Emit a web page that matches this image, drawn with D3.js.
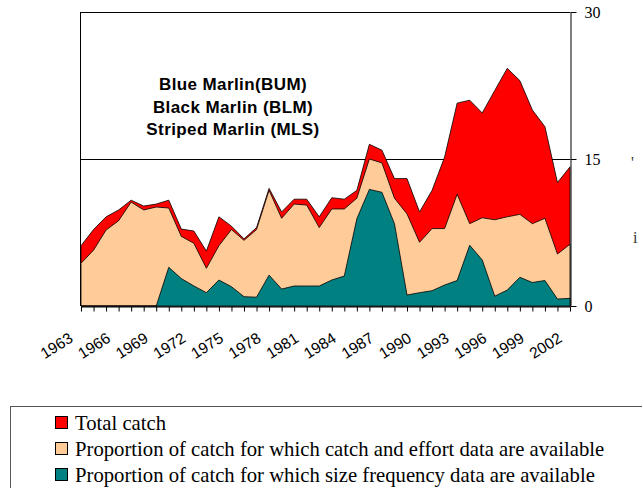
<!DOCTYPE html>
<html>
<head>
<meta charset="utf-8">
<script src="https://cdn.jsdelivr.net/npm/d3@7"></script>
<style>
  body { margin: 0; background: #fff; }
  svg { display: block; }
</style>
</head>
<body>
<div id="chart"></div>
<script>
// ======= DATA =======

const years = [
  1963, 1964, 1965, 1966, 1967, 1968, 1969, 1970, 1971, 1972,
  1973, 1974, 1975, 1976, 1977, 1978, 1979, 1980, 1981, 1982,
  1983, 1984, 1985, 1986, 1987, 1988, 1989, 1990, 1991, 1992,
  1993, 1994, 1995, 1996, 1997, 1998, 1999, 2000, 2001, 2002
];

// total catch ('000 t)
const totalCatch = [
  6.15, 7.8, 9.1, 9.8, 10.8, 10.2, 10.4, 10.8, 7.85, 7.65,
  5.6, 9.1, 8.15, 6.85, 8.0, 12.0, 9.6, 10.9, 10.9, 9.1,
  11.05, 10.9, 11.8, 16.5, 15.9, 13.0, 13.0, 9.6, 11.8, 15.2,
  20.7, 21.0, 19.7, 22.0, 24.25, 23.0, 20.0, 18.3, 12.6, 14.2
];

// part of catch with catch & effort data
const catchEffort = [
  4.35, 5.7, 7.75, 8.7, 10.6, 9.8, 10.1, 10.0, 7.1, 6.4,
  3.85, 6.15, 7.8, 6.7, 7.8, 11.8, 8.95, 10.4, 10.3, 8.0,
  9.9, 9.9, 11.0, 15.0, 14.6, 11.0, 9.4, 6.5, 7.9, 7.9,
  11.4, 8.4, 9.0, 8.8, 9.1, 9.35, 8.4, 8.95, 5.3, 6.3
];

// part of catch with size frequency data
const sizeFreq = [
  0, 0, 0, 0, 0, 0, 0, 3.95, 2.8, 2.05,
  1.36, 2.65, 1.97, 0.95, 0.9, 3.15, 1.73, 2.04, 2.04, 2.04,
  2.65, 3.06, 8.9, 11.9, 11.6, 8.4, 1.12, 1.36, 1.56, 2.14,
  2.6, 6.2, 4.7, 1.0, 1.63, 2.93, 2.4, 2.6, 0.71, 0.78
];

const yTicks = [0, 15, 30];
const labelYears = [1963, 1966, 1969, 1972, 1975, 1978, 1981, 1984, 1987, 1990, 1993, 1996, 1999, 2002];

const speciesLines = ["Blue Marlin(BUM)", "Black Marlin (BLM)", "Striped Marlin (MLS)"];

const series = [
  { name: "Total catch", values: totalCatch, color: "#ff0000" },
  { name: "Proportion of catch for which catch and effort data are available", values: catchEffort, color: "#ffcc99" },
  { name: "Proportion of catch for which size frequency data are available", values: sizeFreq, color: "#008080" }
];

// ======= SVG SETUP =======

const width = 642;
const height = 488;
const plotLeft = 81, plotRight = 570, plotTop = 12, plotBottom = 306;

const svg = d3.select("#chart")
  .append("svg")
  .attr("width", width)
  .attr("height", height);

const x = d3.scalePoint()
  .domain(years)
  .range([plotLeft, plotRight]);

const y = d3.scaleLinear()
  .domain([0, 30])
  .range([plotBottom, plotTop]);

// gridline at 15 (behind the areas)
svg.append("line")
  .attr("x1", plotLeft).attr("x2", plotRight)
  .attr("y1", y(15) + 0.5).attr("y2", y(15) + 0.5)
  .attr("stroke", "#000")
  .attr("stroke-width", 1);

// ------- AREAS (overlapping, not stacked) -------
const area = d3.area()
  .x((d, i) => x(years[i]))
  .y0(y(0))
  .y1(d => y(d));

svg.selectAll(".series")
  .data(series)
  .enter()
  .append("path")
  .attr("class", "series")
  .attr("d", d => area(d.values))
  .attr("fill", d => d.color)
  .attr("stroke", "#000")
  .attr("stroke-width", 0.8)
  .attr("stroke-linejoin", "round");

// plot border: top and left
svg.append("line")
  .attr("x1", plotLeft).attr("x2", plotRight)
  .attr("y1", plotTop + 0.5).attr("y2", plotTop + 0.5)
  .attr("stroke", "#000");
svg.append("line")
  .attr("x1", plotLeft - 0.5).attr("x2", plotLeft - 0.5)
  .attr("y1", plotTop).attr("y2", plotBottom)
  .attr("stroke", "#000");

// ------- AXES -------
const yAxis = svg.append("g")
  .attr("transform", `translate(${plotRight + 0.5},0)`)
  .call(d3.axisRight(y).tickValues(yTicks).tickSize(6).tickSizeOuter(0).tickPadding(8));

yAxis.selectAll("text")
  .attr("font-family", "'Liberation Serif', 'Times New Roman', serif")
  .attr("font-size", 16)
  .attr("fill", "#000");
yAxis.selectAll("line, path").attr("stroke", "#000");

const xAxis = svg.append("g")
  .attr("transform", `translate(0,${plotBottom + 0.5})`)
  .call(d3.axisBottom(x).tickSize(5).tickSizeOuter(0).tickFormat(""));
xAxis.selectAll("line, path").attr("stroke", "#000");

// rotated year labels
svg.selectAll(".year-label")
  .data(labelYears)
  .enter()
  .append("text")
  .attr("class", "year-label")
  .attr("transform", d => `translate(${x(d) - 7},${plotBottom + 35}) rotate(-32)`)
  .attr("text-anchor", "end")
  .attr("font-family", "'Liberation Sans', Arial, sans-serif")
  .attr("font-size", 15.5)
  .attr("fill", "#000")
  .text(d => d);

// species title inside the plot
svg.selectAll(".species")
  .data(speciesLines)
  .enter()
  .append("text")
  .attr("class", "species")
  .attr("x", 233)
  .attr("y", (d, i) => 90 + i * 22.5)
  .attr("text-anchor", "middle")
  .attr("font-family", "'Liberation Sans', Arial, sans-serif")
  .attr("font-weight", "bold")
  .attr("font-size", 17)
  .attr("letter-spacing", 0.4)
  .attr("fill", "#000")
  .text(d => d);

// clipped fragments at right edge
svg.append("text")
  .attr("x", 631).attr("y", 168)
  .attr("font-family", "'Liberation Serif', serif")
  .attr("font-size", 16)
  .attr("fill", "#333")
  .text("'");
svg.append("text")
  .attr("x", 633).attr("y", 243)
  .attr("font-family", "'Liberation Serif', serif")
  .attr("font-size", 16)
  .attr("fill", "#333")
  .text("i");

// ------- LEGEND -------
svg.append("rect")
  .attr("x", 10.5).attr("y", 406.5)
  .attr("width", 700).attr("height", 120)
  .attr("fill", "#fff")
  .attr("stroke", "#555");

const legend = svg.selectAll(".legend-item")
  .data(series)
  .enter()
  .append("g")
  .attr("class", "legend-item")
  .attr("transform", (d, i) => `translate(0,${430 + i * 26})`);

legend.append("rect")
  .attr("x", 55.5).attr("y", -13.5)
  .attr("width", 12).attr("height", 12)
  .attr("fill", d => d.color)
  .attr("stroke", "#000");

legend.append("text")
  .attr("x", 75)
  .attr("y", 0)
  .attr("font-family", "'Liberation Serif', 'Times New Roman', serif")
  .attr("font-size", 20.7)
  .attr("fill", "#000")
  .text(d => d.name);
</script>
</body>
</html>
